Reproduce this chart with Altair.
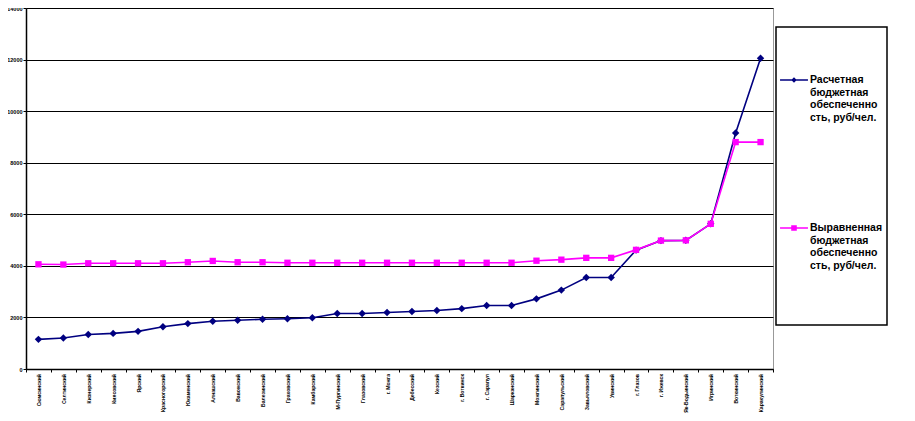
import altair as alt
import pandas as pd

categories = ["Сюмсинский", "Селтинский", "Кизнерский", "Киясовский", "Ярский",
              "Красногорский", "Юкаменский", "Алнашский", "Вавожский", "Балезинский",
              "Граховский", "Камбарский", "М-Пургинский", "Глазовский", "г. Можга",
              "Дебесский", "Кезский", "г. Воткинск", "г. Сарапул", "Шарканский",
              "Можгинский", "Сарапульский", "Завьяловский", "Увинский", "г. Глазов",
              "г. Ижевск", "Як-Бодьинский", "Игринский", "Воткинский", "Каракулинский"]

calc = [1150, 1200, 1340, 1380, 1460, 1640, 1760, 1850, 1890, 1930,
        1950, 1990, 2150, 2150, 2190, 2230, 2270, 2340, 2460, 2460,
        2720, 3060, 3550, 3550, 4610, 4980, 4990, 5630, 9150, 12050]

equal = [4060, 4050, 4100, 4100, 4100, 4100, 4140, 4190, 4140, 4140,
         4120, 4120, 4120, 4120, 4120, 4120, 4120, 4120, 4120, 4120,
         4200, 4240, 4310, 4310, 4620, 4980, 4990, 5630, 8800, 8800]

s_calc = "Расчетная|бюджетная|обеспеченно|сть, руб/чел."
s_equal = "Выравненная|бюджетная|обеспеченно|сть, руб/чел."

y_ticks = [0, 2000, 4000, 6000, 8000, 10000, 12000, 14000]

NAVY = "#000080"
MAGENTA = "#FF00FF"
FONT = "Liberation Sans"

rows = []
for c, v in zip(categories, calc):
    rows.append({"cat": c, "val": v, "s": s_calc})
for c, v in zip(categories, equal):
    rows.append({"cat": c, "val": v, "s": s_equal})
df = pd.DataFrame(rows)

x_enc = alt.X("cat:N", sort=categories, title=None,
              scale=alt.Scale(paddingInner=0, paddingOuter=0),
              axis=alt.Axis(labelAngle=-90, labelFont=FONT, labelFontSize=5.1,
                            labelFontWeight="bold", labelColor="black",
                            tickBand="extent", tickSize=3, tickColor="black",
                            domainColor="black", domainWidth=1.5, grid=False,
                            labelPadding=1.5, labelLimit=0))
y_enc = alt.Y("val:Q", title=None, scale=alt.Scale(domain=[0, 14000], nice=False),
              axis=alt.Axis(values=y_ticks, format="d", labelFont=FONT, labelFontSize=5.5,
                            labelFontWeight="bold", labelColor="black",
                            tickSize=3, tickColor="black", labelPadding=1,
                            domainColor="black", domainWidth=1.5,
                            grid=True, gridColor="black", gridWidth=1.2))

base = alt.Chart(df)

line1 = base.transform_filter(alt.datum.s == s_calc).mark_line(
    color=NAVY, strokeWidth=1.6).encode(x=x_enc, y=y_enc)
pts1 = base.transform_filter(alt.datum.s == s_calc).mark_point(
    shape="diamond", filled=True, size=55, color=NAVY, opacity=1).encode(x=x_enc, y=y_enc)
line2 = base.transform_filter(alt.datum.s == s_equal).mark_line(
    color=MAGENTA, strokeWidth=1.6).encode(x=x_enc, y=y_enc)
pts2 = base.transform_filter(alt.datum.s == s_equal).mark_point(
    shape="square", filled=True, size=40, color=MAGENTA, opacity=1).encode(x=x_enc, y=y_enc)

# legend symbols: short line with marker, shifted down to sit on the first label line
path_diamond = "M-1,0.31L1,0.31L1,0.41L-1,0.41Z M0,0.16L0.2,0.36L0,0.56L-0.2,0.36Z"
path_square = "M-1,0.31L1,0.31L1,0.41L-1,0.41Z M-0.2,0.16L0.2,0.16L0.2,0.56L-0.2,0.56Z"

leg = alt.Legend(orient="none", legendX=750, legendY=19, title=" ",
                 titleFontSize=10, titlePadding=20,
                 padding=4, strokeColor="black", fillColor="white",
                 rowPadding=86, labelFont=FONT, labelFontSize=10.5, labelFontWeight="bold",
                 labelColor="black",
                 labelExpr="split(datum.label + (indexof(datum.label, 'Выр') == 0 ? '| | | | ' : ''), '|')",
                 labelLimit=0,
                 symbolSize=780, symbolOpacity=1, symbolStrokeWidth=0,
                 labelBaseline="top", labelOffset=2)

legend_layer = base.mark_point(filled=True, opacity=0).encode(
    x=x_enc, y=y_enc,
    color=alt.Color("s:N", scale=alt.Scale(domain=[s_calc, s_equal], range=[NAVY, MAGENTA]), legend=leg),
    shape=alt.Shape("s:N", scale=alt.Scale(domain=[s_calc, s_equal], range=[path_diamond, path_square]), legend=leg),
)

chart = alt.layer(line1, pts1, line2, pts2, legend_layer).properties(
    width=747, height=361,
    autosize=alt.AutoSizeParams(type="none"),
    padding={"left": 18, "top": 0, "right": 132, "bottom": 44},
    background="white",
).configure_view(stroke="#999999", strokeWidth=1).configure_legend(strokeWidth=1.5)

chart.save("out.html", embed_options={"renderer": "svg", "actions": False})
